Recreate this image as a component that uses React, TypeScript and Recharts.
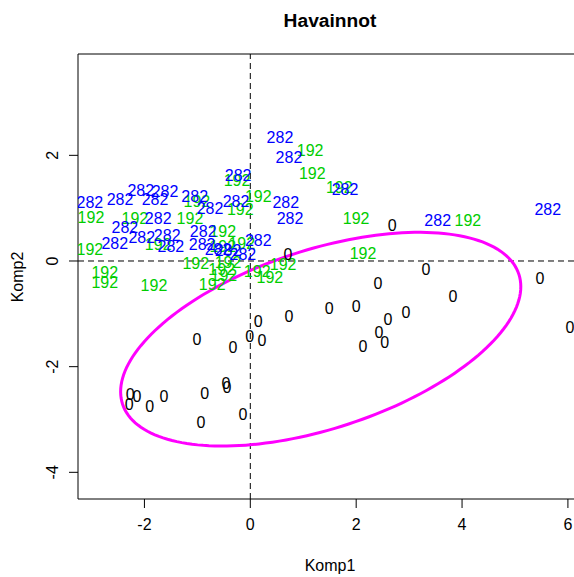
import {
  ReferenceArea,
  ReferenceLine,
  Scatter,
  ScatterChart,
  XAxis,
  YAxis,
} from "recharts";

const FONT = "'Liberation Sans', Arial, Helvetica, sans-serif";

const X_DOMAIN = [-3.255, 6.266];
const Y_DOMAIN = [-4.505, 3.918];
const X_TICKS = [-2, 0, 2, 4, 6];
const Y_TICKS = [-4, -2, 0, 2];

// ryhmä 282
const B282_X = [-3.03, -2.46, -2.07, -1.61, -1.8, -1.05, -0.76, -1.74, -2.37, -2.56, -2.05, -1.57, -1.5, -0.89, -0.91, -0.23, -0.27, -0.42, -0.14, 0.15, 0.56, 0.73, 1.79, 0.67, 0.75, 3.54, 5.62, -0.61];
const B282_Y = [1.1, 1.17, 1.34, 1.31, 1.16, 1.23, 1.0, 0.8, 0.64, 0.34, 0.45, 0.49, 0.28, 0.55, 0.32, 1.61, 1.12, 0.19, 0.13, 0.38, 2.33, 1.95, 1.36, 1.1, 0.8, 0.76, 0.97, 0.21];

// ryhmä 192
const G192_X = [-3.01, -2.18, -1.14, -0.25, -0.19, 0.15, -3.03, -1.74, -0.52, -0.52, -0.16, -1.03, -0.42, -0.54, -0.5, -2.75, -2.75, -1.82, -0.72, 0.13, 0.37, 0.62, 1.13, 1.17, 1.68, 2.0, 2.13, 4.11, -1.01];
const G192_Y = [0.83, 0.81, 0.81, 1.53, 0.98, 1.23, 0.21, 0.32, 0.55, 0.27, 0.34, -0.04, -0.02, -0.17, -0.28, -0.21, -0.4, -0.47, -0.44, -0.19, -0.32, -0.06, 2.1, 1.65, 1.4, 0.8, 0.15, 0.76, 1.12];

// ryhmä 0
const ZERO_X = [2.68, 0.71, 2.41, 3.32, 3.83, 2.94, 5.47, 6.04, 1.49, 2.0, 2.6, 0.73, 0.15, 2.43, 2.54, 2.13, -0.01, 0.22, -1.01, -0.33, -0.46, -0.44, -0.86, -2.27, -2.14, -2.29, -1.9, -1.63, -0.93, -0.14];
const ZERO_Y = [0.68, 0.13, -0.42, -0.17, -0.68, -0.97, -0.34, -1.25, -0.89, -0.87, -1.1, -1.06, -1.14, -1.36, -1.55, -1.61, -1.42, -1.51, -1.48, -1.63, -2.31, -2.4, -2.5, -2.52, -2.56, -2.71, -2.75, -2.57, -3.05, -2.9];

// luottamusellipsi: keskipiste, puoliakselit, kulma (astetta)
const ELLIPSE_CENTER = [1.33, -1.48];
const ELLIPSE_AXES = [3.94, 1.69];
const ELLIPSE_ANGLE = 18.2;

const toPoints = (xs: number[], ys: number[]) => xs.map((x, i) => ({ x, y: ys[i] }));

const ellipsePoints = (() => {
  const th = (ELLIPSE_ANGLE * Math.PI) / 180;
  const [cx, cy] = ELLIPSE_CENTER;
  const [a, b] = ELLIPSE_AXES;
  const pts = [];
  for (let i = 0; i <= 180; i++) {
    const t = (i / 180) * 2 * Math.PI;
    pts.push({
      x: cx + a * Math.cos(th) * Math.cos(t) - b * Math.sin(th) * Math.sin(t),
      y: cy + a * Math.sin(th) * Math.cos(t) + b * Math.cos(th) * Math.sin(t),
    });
  }
  return pts;
})();

const labelShape = (text: string, color: string) => (props: any) => (
  <text
    x={props.cx}
    y={props.cy}
    textAnchor="middle"
    dominantBaseline="central"
    fill={color}
    fontSize={16}
    fontFamily={FONT}
  >
    {text}
  </text>
);

const XTick = (props: any) => (
  <text
    x={props.x}
    y={props.y + 16}
    textAnchor="middle"
    dominantBaseline="central"
    fontSize={16}
    fontFamily={FONT}
    fill="#000"
  >
    {props.payload.value}
  </text>
);

const YTick = (props: any) => {
  const x = props.x - 16;
  return (
    <text
      x={x}
      y={props.y}
      transform={`rotate(-90 ${x} ${props.y})`}
      textAnchor="middle"
      dominantBaseline="central"
      fontSize={16}
      fontFamily={FONT}
      fill="#000"
    >
      {props.payload.value}
    </text>
  );
};

export default function App() {
  return (
    <div
      style={{
        position: "absolute",
        left: 0,
        top: 0,
        width: 574,
        height: 577,
        overflow: "hidden",
        background: "#fff",
        fontFamily: FONT,
      }}
    >
      <div
        style={{
          position: "absolute",
          left: 230,
          top: 11,
          width: 200,
          textAlign: "center",
          fontWeight: "bold",
          fontSize: 19.2,
          lineHeight: "20px",
        }}
      >
        Havainnot
      </div>
      <div
        style={{
          position: "absolute",
          left: 230,
          top: 558,
          width: 200,
          textAlign: "center",
          fontSize: 16,
          lineHeight: "16px",
        }}
      >
        Komp1
      </div>
      <div
        style={{
          position: "absolute",
          left: -32,
          top: 268.5,
          width: 100,
          height: 16,
          textAlign: "center",
          fontSize: 16,
          lineHeight: "16px",
          transform: "rotate(-90deg)",
        }}
      >
        Komp2
      </div>
      <ScatterChart
        width={600}
        height={577}
        margin={{ top: 54, right: 18, bottom: 18, left: 18 }}
      >
        <XAxis
          type="number"
          dataKey="x"
          domain={X_DOMAIN}
          ticks={X_TICKS}
          interval={0}
          allowDataOverflow
          axisLine={false}
          tickLine={{ stroke: "#000" }}
          tickSize={9}
          tickMargin={0}
          height={60}
          tick={<XTick />}
        />
        <YAxis
          type="number"
          dataKey="y"
          domain={Y_DOMAIN}
          ticks={Y_TICKS}
          interval={0}
          allowDataOverflow
          axisLine={false}
          tickLine={{ stroke: "#000" }}
          tickSize={9}
          tickMargin={0}
          width={60}
          tick={<YTick />}
        />
        <ReferenceArea
          x1={X_DOMAIN[0]}
          x2={X_DOMAIN[1]}
          y1={Y_DOMAIN[0]}
          y2={Y_DOMAIN[1]}
          fill="none"
          stroke="#000"
          strokeWidth={1}
        />
        <ReferenceLine x={0} stroke="#000" strokeDasharray="6 4" />
        <ReferenceLine y={0} stroke="#000" strokeDasharray="6 4" />
        <Scatter
          data={ellipsePoints}
          line={{ stroke: "#ff00ff", strokeWidth: 3 }}
          shape={() => <g />}
          isAnimationActive={false}
        />
        <Scatter
          data={toPoints(G192_X, G192_Y)}
          shape={labelShape("192", "#00cd00")}
          isAnimationActive={false}
        />
        <Scatter
          data={toPoints(B282_X, B282_Y)}
          shape={labelShape("282", "#0000ff")}
          isAnimationActive={false}
        />
        <Scatter
          data={toPoints(ZERO_X, ZERO_Y)}
          shape={labelShape("0", "#000")}
          isAnimationActive={false}
        />
      </ScatterChart>
    </div>
  );
}
